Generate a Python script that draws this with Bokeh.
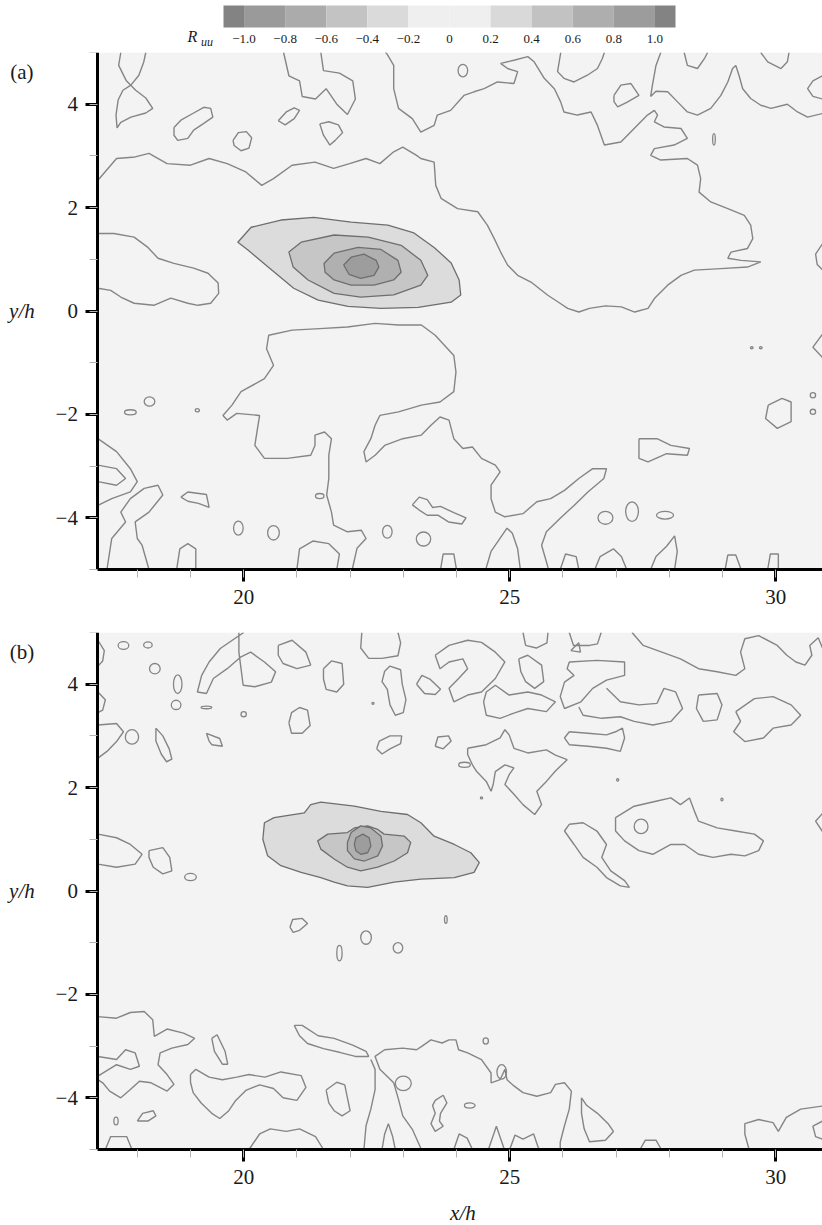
from bokeh.plotting import figure
from bokeh.layouts import column
from bokeh.models import Range1d, SingleIntervalTicker, CustomJSTickFormatter
from bokeh.core.properties import value
from bokeh.embed import file_html
from bokeh.resources import INLINE

SERIF = "Liberation Serif"
LINE = "#858585"
FS = "21px"

# data window of both panels
X_LIM = (17.26, 30.88)
Y_LIM = (-5.0, 5.0)

# ---------------- colour bar (R_uu levels) ----------------
CB_EDGES = [-1.1, -1.0, -0.8, -0.6, -0.4, -0.2, 0.0, 0.2, 0.4, 0.6, 0.8, 1.0, 1.1]
CB_COLORS = ["#838383", "#9a9a9a", "#ababab", "#c3c3c3", "#dadada", "#efefef",
             "#efefef", "#d9d9d9", "#c2c2c2", "#aeaeae", "#9c9c9c", "#838383"]
CB_TICKS = [-1.0, -0.8, -0.6, -0.4, -0.2, 0.0, 0.2, 0.4, 0.6, 0.8, 1.0]

# positive correlation levels 0.2, 0.4, 0.6, 0.8 (fills)
LEVEL_FILL = ["#dcdcdc", "#c6c6c6", "#b0b0b0", "#9d9d9d"]

# ---------------- panel (a) ----------------
A_LEVELS = [
    [(19.89, 1.33), (20.14, 1.62), (20.70, 1.76), (21.32, 1.81), (22.02, 1.72), (22.71, 1.66), (23.20, 1.51),
     (23.58, 1.23), (23.90, 0.93), (24.05, 0.60), (24.08, 0.31), (23.90, 0.17), (23.28, 0.07), (22.58, 0.05),
     (21.96, 0.09), (21.40, 0.21), (20.94, 0.44), (20.46, 0.85), (20.08, 1.18)],
    [(20.85, 1.14), (21.08, 1.33), (21.70, 1.47), (22.34, 1.43), (22.96, 1.27), (23.33, 0.98), (23.46, 0.69),
     (23.33, 0.50), (22.82, 0.31), (22.20, 0.27), (21.70, 0.34), (21.21, 0.60), (20.93, 0.85)],
    [(21.51, 0.92), (21.70, 1.12), (22.15, 1.23), (22.58, 1.19), (22.90, 0.98), (22.96, 0.75), (22.82, 0.60),
     (22.45, 0.50), (22.02, 0.50), (21.70, 0.60), (21.53, 0.75)],
    [(21.88, 0.89), (22.02, 1.04), (22.26, 1.10), (22.49, 0.98), (22.54, 0.85), (22.45, 0.69), (22.20, 0.63),
     (21.98, 0.71)],
]

A_LINES = [
    [(17.26, 2.53), (17.61, 2.95), (17.96, 2.98), (18.22, 3.05), (18.56, 2.85), (19.00, 2.82), (19.35, 2.95),
     (19.69, 2.85), (20.04, 2.69), (20.34, 2.43), (20.56, 2.56), (20.91, 2.82), (21.34, 2.88), (21.69, 2.76),
     (21.99, 2.85), (22.30, 2.95), (22.56, 2.85), (22.82, 3.08), (22.99, 3.17), (23.25, 3.01), (23.33, 2.95),
     (23.58, 2.88), (23.61, 2.43), (23.71, 2.18), (24.02, 1.98), (24.40, 1.92), (24.58, 1.66), (24.71, 1.40),
     (24.83, 1.14), (24.96, 0.89), (25.15, 0.69), (25.40, 0.56), (25.71, 0.31), (25.96, 0.14), (26.09, 0.05),
     (26.30, -0.02), (26.50, 0.05), (26.80, 0.10), (27.10, 0.08), (27.35, -0.02), (27.60, 0.05), (27.72, 0.24),
     (27.97, 0.50), (28.22, 0.69), (28.47, 0.79), (28.97, 0.82), (29.47, 0.85), (29.72, 0.95), (29.35, 0.98),
     (29.10, 1.02), (29.16, 1.14), (29.47, 1.21), (29.57, 1.40), (29.53, 1.66), (29.41, 1.85), (29.10, 1.98),
     (28.78, 2.11), (28.56, 2.30), (28.59, 2.56), (28.53, 2.82), (28.34, 2.95), (27.84, 2.92), (27.65, 3.01),
     (27.72, 3.14), (28.09, 3.21), (28.34, 3.34), (28.22, 3.53), (27.90, 3.56), (27.72, 3.66), (27.78, 3.79),
     (27.72, 3.88), (27.59, 3.79), (27.34, 3.53), (27.09, 3.27), (26.78, 3.21), (26.65, 3.59), (26.53, 3.85),
     (26.27, 3.79), (26.02, 3.85), (25.96, 4.04), (25.84, 4.30), (25.65, 4.50), (25.46, 4.82), (25.34, 4.92),
     (25.08, 4.85), (24.83, 4.79), (24.96, 4.69), (25.15, 4.63), (25.08, 4.40), (24.77, 4.43), (24.52, 4.30),
     (24.33, 4.24), (24.14, 4.17), (23.89, 3.88), (23.64, 3.79), (23.58, 3.59), (23.33, 3.46), (23.17, 3.72),
     (22.91, 3.92), (22.82, 4.30), (22.82, 4.75), (22.69, 4.98), (22.66, 5.0)],
    [(17.26, 1.50), (17.56, 1.50), (17.94, 1.43), (18.20, 1.23), (18.39, 1.02), (18.69, 0.92), (19.06, 0.83),
     (19.33, 0.73), (19.52, 0.54), (19.53, 0.34), (19.38, 0.15), (19.14, 0.11), (18.95, 0.15), (18.63, 0.25),
     (18.31, 0.11), (17.94, 0.15), (17.69, 0.27), (17.50, 0.40), (17.26, 0.44)],
    [(17.69, 5.0), (17.65, 4.75), (17.79, 4.46), (17.97, 4.27), (18.16, 4.12), (18.29, 3.92), (18.16, 3.83),
     (17.88, 3.75), (17.69, 3.65), (17.62, 3.54), (17.60, 3.79), (17.64, 4.08), (17.73, 4.27), (17.88, 4.37),
     (18.03, 4.56), (18.12, 4.81), (18.16, 5.0)],
    [(18.69, 3.55), (18.82, 3.69), (19.06, 3.83), (19.25, 3.94), (19.38, 3.92), (19.42, 3.75), (19.25, 3.63),
     (19.06, 3.50), (18.95, 3.34), (18.76, 3.30), (18.69, 3.40), (18.69, 3.55)],
    [(19.8, 3.3), (19.9, 3.45), (20.05, 3.47), (20.15, 3.35), (20.1, 3.15), (19.95, 3.1), (19.82, 3.2), (19.8, 3.3)],
    [(21.43, 3.62), (21.6, 3.66), (21.78, 3.6), (21.86, 3.45), (21.72, 3.3), (21.62, 3.21), (21.5, 3.4), (21.43, 3.62)],
    [(20.65, 3.68), (20.8, 3.85), (20.95, 3.93), (21.05, 3.88), (20.95, 3.72), (20.78, 3.6), (20.65, 3.68)],
    [(20.75, 5.0), (20.85, 4.55), (21.05, 4.45), (21.1, 4.15), (21.35, 4.1), (21.55, 4.3), (21.75, 4.0),
     (21.95, 3.8), (22.1, 4.1), (22.05, 4.45), (21.8, 4.6), (21.5, 4.65), (21.45, 5.0)],
    [(27.84, 5.0), (27.75, 4.75), (27.68, 4.35), (27.65, 4.15), (27.75, 4.25), (27.97, 4.24), (28.16, 4.04),
     (28.34, 3.85), (28.53, 3.79), (28.78, 3.92), (28.97, 4.17), (29.10, 4.43), (29.19, 4.69), (29.25, 4.75),
     (29.31, 4.56), (29.38, 4.30), (29.53, 4.11), (29.72, 3.98), (29.91, 3.92), (30.22, 4.0), (30.41, 3.85),
     (30.6, 3.75), (30.88, 3.82)],
    [(26.96, 4.17), (27.09, 4.37), (27.28, 4.40), (27.43, 4.17), (27.21, 4.04), (27.03, 3.95), (26.96, 4.05),
     (26.96, 4.17)],
    [(25.96, 5.0), (25.90, 4.63), (26.02, 4.50), (26.21, 4.43), (26.46, 4.56), (26.65, 4.69), (26.74, 4.88),
     (26.78, 5.0)],
    [(28.28, 5.0), (28.34, 4.75), (28.53, 4.69), (28.66, 4.88), (28.72, 5.0)],
    [(29.72, 5.0), (29.85, 4.82), (30.10, 4.69), (30.22, 4.82), (30.25, 5.0)],
    [(30.88, 4.55), (30.7, 4.45), (30.6, 4.3), (30.7, 4.15), (30.88, 4.1)],
    [(30.88, 1.3), (30.75, 1.1), (30.78, 0.9), (30.88, 0.8)],
    [(30.88, -0.45), (30.7, -0.7), (30.88, -0.9)],
    [(22.04, -5.0), (22.13, -4.59), (22.30, -4.40), (22.21, -4.24), (21.95, -4.27), (21.69, -4.14), (21.65, -3.89),
     (21.56, -3.56), (21.60, -3.24), (21.60, -2.79), (21.65, -2.47), (21.52, -2.34), (21.34, -2.40), (21.34, -2.60),
     (21.26, -2.79), (20.82, -2.85), (20.39, -2.85), (20.21, -2.60), (20.26, -2.27), (20.30, -2.02), (19.87, -1.98),
     (19.69, -2.11), (19.61, -2.02), (19.78, -1.82), (19.95, -1.56), (20.39, -1.31), (20.56, -1.05), (20.43, -0.73),
     (20.47, -0.47), (20.91, -0.37), (21.43, -0.34), (21.95, -0.31), (22.47, -0.24), (22.91, -0.27), (23.34, -0.27),
     (23.60, -0.47), (23.95, -0.86), (23.99, -1.18), (23.95, -1.56), (23.69, -1.76), (23.34, -1.82), (22.91, -1.95),
     (22.56, -2.02), (22.47, -2.21), (22.39, -2.47), (22.26, -2.72), (22.30, -2.92), (22.47, -2.79), (22.65, -2.60),
     (22.99, -2.47), (23.34, -2.40), (23.52, -2.21), (23.69, -2.05), (23.86, -2.11), (23.95, -2.47), (24.12, -2.66),
     (24.30, -2.63), (24.47, -2.85), (24.73, -2.98), (24.82, -3.11), (24.65, -3.37), (24.65, -3.63), (24.73, -3.89),
     (24.91, -3.98), (25.25, -3.92), (25.51, -3.69), (25.77, -3.63), (26.03, -3.47), (26.30, -3.24), (26.56, -3.05),
     (26.82, -3.05), (26.77, -3.24), (26.47, -3.50), (26.21, -3.76), (25.95, -4.01), (25.69, -4.27), (25.60, -4.53),
     (25.69, -4.85), (25.73, -5.0)],
    [(27.43, -2.47), (27.77, -2.47), (28.03, -2.60), (28.38, -2.66), (28.34, -2.79), (27.95, -2.76), (27.60, -2.92),
     (27.43, -2.85), (27.43, -2.47)],
    [(29.86, -1.82), (30.12, -1.69), (30.29, -1.76), (30.29, -2.14), (30.03, -2.27), (29.81, -2.08), (29.86, -1.82)],
    [(17.26, -2.47), (17.61, -2.72), (17.87, -3.05), (18.0, -3.30), (17.87, -3.50), (17.52, -3.63), (17.26, -3.76)],
    [(17.26, -2.98), (17.61, -3.05), (17.78, -3.24), (17.61, -3.37), (17.26, -3.30)],
    [(17.43, -5.0), (17.52, -4.40), (17.78, -4.08), (17.69, -3.89), (17.87, -3.63), (18.13, -3.43), (18.39, -3.37),
     (18.48, -3.56), (18.22, -3.89), (17.96, -4.08), (18.0, -4.40), (18.09, -4.53), (18.22, -5.0)],
    [(18.82, -3.6), (18.95, -3.5), (19.3, -3.55), (19.35, -3.8), (19.15, -3.72), (18.95, -3.68), (18.82, -3.6)],
    [(23.17, -3.75), (23.3, -3.6), (23.45, -3.65), (23.55, -3.8), (23.7, -3.78), (23.95, -3.9), (24.18, -4.0),
     (24.1, -4.12), (23.85, -4.08), (23.65, -3.95), (23.45, -3.95), (23.3, -3.85), (23.17, -3.75)],
    [(18.74, -5.0), (18.8, -4.6), (18.95, -4.5), (19.1, -4.6), (19.1, -5.0)],
    [(21.0, -5.0), (21.05, -4.6), (21.3, -4.45), (21.6, -4.5), (21.8, -4.7), (21.75, -5.0)],
    [(23.7, -5.0), (23.75, -4.7), (23.95, -4.7), (24.0, -5.0)],
    [(24.55, -5.0), (24.65, -4.65), (24.85, -4.35), (24.95, -4.2), (25.05, -4.3), (25.15, -4.6), (25.2, -5.0)],
    [(25.95, -5.0), (26.05, -4.7), (26.25, -4.75), (26.3, -5.0)],
    [(26.6, -5.0), (26.7, -4.75), (26.95, -4.6), (27.1, -4.75), (27.2, -5.0)],
    [(27.65, -5.0), (27.75, -4.75), (27.95, -4.55), (28.1, -4.35), (28.15, -4.65), (28.1, -5.0)],
    [(29.05, -5.0), (29.1, -4.72), (29.25, -4.72), (29.35, -5.0)],
    [(29.85, -5.0), (29.9, -4.7), (30.05, -4.7), (30.05, -5.0)],
]

A_ISL_X = [24.12, 28.84, 17.87, 18.23, 19.13, 19.9, 20.56, 22.7, 23.38, 26.8, 27.3, 27.92, 30.7, 30.7, 21.43, 29.55, 29.72]
A_ISL_Y = [4.65, 3.32, -1.96, -1.75, -1.92, -4.2, -4.29, -4.27, -4.41, -4.0, -3.88, -3.95, -1.63, -1.95, -3.58, -0.71, -0.71]
A_ISL_W = [0.18, 0.05, 0.22, 0.2, 0.08, 0.18, 0.22, 0.18, 0.27, 0.28, 0.24, 0.32, 0.1, 0.1, 0.16, 0.05, 0.05]
A_ISL_H = [0.24, 0.22, 0.1, 0.18, 0.06, 0.27, 0.28, 0.25, 0.27, 0.25, 0.38, 0.15, 0.1, 0.1, 0.1, 0.04, 0.04]

# ---------------- panel (b) ----------------
B_LEVELS = [
    [(20.39, 1.32), (20.57, 1.42), (21.14, 1.51), (21.26, 1.67), (21.45, 1.72), (22.08, 1.64), (22.58, 1.54),
     (23.08, 1.48), (23.33, 1.32), (23.58, 1.06), (23.96, 0.90), (24.27, 0.74), (24.43, 0.55), (24.33, 0.36),
     (23.96, 0.26), (23.33, 0.23), (22.83, 0.17), (22.33, 0.07), (21.95, 0.10), (21.70, 0.17), (21.45, 0.26),
     (21.08, 0.36), (20.70, 0.49), (20.45, 0.68), (20.36, 1.0)],
    [(21.39, 0.97), (21.58, 1.10), (21.95, 1.13), (22.08, 1.22), (22.33, 1.26), (22.52, 1.19), (22.64, 1.10),
     (23.02, 1.06), (23.14, 0.94), (23.08, 0.74), (22.83, 0.58), (22.52, 0.46), (22.20, 0.39), (21.95, 0.46),
     (21.70, 0.62), (21.45, 0.81)],
    [(21.95, 0.94), (22.02, 1.13), (22.20, 1.26), (22.39, 1.22), (22.58, 1.06), (22.61, 0.87), (22.52, 0.68),
     (22.27, 0.58), (22.08, 0.62), (21.95, 0.78)],
    [(22.08, 0.90), (22.11, 1.03), (22.24, 1.10), (22.36, 1.03), (22.39, 0.87), (22.33, 0.74), (22.20, 0.71),
     (22.11, 0.78)],
]

B_LINES = [
    [(17.26, 4.85), (17.38, 4.65), (17.35, 4.45), (17.26, 4.35)],
    [(17.26, 3.85), (17.4, 3.7), (17.35, 3.5), (17.26, 3.45)],
    [(17.26, 3.21), (17.61, 3.24), (17.74, 3.08), (17.61, 2.89), (17.43, 2.70), (17.26, 2.57)],
    [(18.35, 3.15), (18.48, 3.0), (18.6, 2.75), (18.65, 2.55), (18.55, 2.5), (18.45, 2.65), (18.35, 2.9), (18.35, 3.15)],
    [(19.3, 3.05), (19.55, 2.95), (19.6, 2.8), (19.4, 2.83), (19.35, 2.9), (19.3, 3.05)],
    [(20.0, 5.0), (19.56, 4.69), (19.35, 4.43), (19.21, 4.17), (19.13, 3.85), (19.30, 3.82), (19.43, 4.11),
     (19.69, 4.30), (19.95, 4.53), (20.13, 4.62), (20.39, 4.43), (20.6, 4.24), (20.52, 4.04), (20.21, 3.95),
     (19.99, 3.98), (19.95, 4.30), (19.91, 4.62), (19.91, 5.0)],
    [(20.65, 4.75), (20.91, 4.85), (21.17, 4.62), (21.26, 4.37), (21.0, 4.3), (20.74, 4.4), (20.65, 4.56), (20.65, 4.75)],
    [(21.5, 4.3), (21.65, 4.45), (21.85, 4.4), (21.88, 4.0), (21.75, 3.85), (21.55, 3.9), (21.5, 4.1), (21.5, 4.3)],
    [(20.85, 3.25), (20.9, 3.45), (21.05, 3.55), (21.2, 3.5), (21.25, 3.2), (21.1, 3.05), (20.9, 3.05), (20.85, 3.25)],
    [(22.22, 5.0), (22.2, 4.7), (22.35, 4.5), (22.6, 4.5), (22.9, 4.55), (22.95, 4.8), (22.9, 5.0)],
    [(22.65, 4.25), (22.75, 4.35), (22.95, 4.28), (22.98, 4.0), (23.05, 3.7), (23.0, 3.45), (22.85, 3.4), (22.75, 3.6),
     (22.7, 3.9), (22.6, 4.05), (22.65, 4.25)],
    [(23.25, 4.0), (23.35, 4.17), (23.5, 4.1), (23.7, 3.9), (23.6, 3.8), (23.4, 3.82), (23.25, 4.0)],
    [(22.5, 2.75), (22.55, 2.9), (22.75, 3.0), (22.97, 3.0), (22.95, 2.85), (22.75, 2.75), (22.6, 2.65), (22.5, 2.75)],
    [(23.6, 2.8), (23.65, 2.98), (23.85, 3.0), (23.9, 2.9), (23.75, 2.75), (23.6, 2.8)],
    [(23.60, 4.56), (23.86, 4.75), (24.21, 4.85), (24.47, 4.81), (24.73, 4.62), (24.91, 4.43), (24.73, 4.11),
     (24.47, 3.85), (24.21, 3.79), (23.95, 3.66), (23.86, 3.92), (24.04, 4.11), (24.21, 4.30), (24.12, 4.49),
     (23.86, 4.43), (23.69, 4.30), (23.60, 4.56)],
    [(24.56, 3.85), (24.73, 3.98), (24.99, 3.79), (25.34, 3.85), (25.60, 3.79), (25.86, 3.66), (25.69, 3.47),
     (25.34, 3.53), (25.08, 3.44), (24.82, 3.34), (24.56, 3.40), (24.51, 3.66), (24.56, 3.85)],
    [(25.17, 4.49), (25.34, 4.56), (25.60, 4.37), (25.64, 4.05), (25.47, 3.92), (25.30, 4.05), (25.21, 4.24), (25.17, 4.49)],
    [(25.25, 5.0), (25.3, 4.75), (25.5, 4.7), (25.7, 4.8), (25.72, 5.0)],
    [(26.12, 5.0), (26.2, 4.75), (26.5, 4.75), (26.65, 4.78), (26.72, 5.0)],
    [(26.12, 4.43), (26.64, 4.46), (27.16, 4.43), (27.16, 4.17), (26.82, 4.08), (26.56, 3.92), (26.34, 3.66),
     (26.03, 3.53), (25.95, 3.76), (26.03, 4.04), (26.21, 4.17), (26.08, 4.30), (26.12, 4.43)],
    [(26.82, 3.92), (27.08, 3.66), (27.43, 3.60), (27.77, 3.63), (27.90, 3.92), (28.12, 3.85), (28.25, 3.53),
     (28.03, 3.28), (27.69, 3.21), (27.34, 3.28), (27.08, 3.37), (26.73, 3.34), (26.38, 3.40), (26.30, 3.56)],
    [(26.12, 3.08), (26.47, 3.05), (26.82, 3.02), (26.99, 3.08), (27.12, 3.15), (27.16, 2.96), (27.08, 2.70),
     (26.82, 2.76), (26.47, 2.80), (26.12, 2.83), (26.03, 2.96), (26.12, 3.08)],
    [(24.21, 2.76), (24.56, 2.83), (24.82, 2.96), (24.91, 3.12), (24.99, 3.02), (25.08, 2.76), (25.34, 2.67),
     (25.69, 2.73), (25.86, 2.63), (26.08, 2.54), (25.86, 2.32), (25.69, 2.12), (25.51, 1.93), (25.60, 1.67),
     (25.47, 1.48), (25.25, 1.67), (25.08, 1.87), (24.91, 2.06), (24.99, 2.25), (25.08, 2.38), (24.91, 2.44),
     (24.73, 2.31), (24.69, 2.06), (24.65, 1.93), (24.56, 2.12), (24.38, 2.31), (24.30, 2.44), (24.21, 2.64),
     (24.21, 2.76)],
    [(27.3, 5.0), (27.51, 4.75), (27.86, 4.62), (28.21, 4.49), (28.55, 4.30), (28.9, 4.24), (29.25, 4.17),
     (29.42, 4.30), (29.34, 4.62), (29.42, 4.88), (29.68, 4.94), (30.03, 4.75), (30.21, 4.56), (30.38, 4.43),
     (30.55, 4.37), (30.68, 4.56), (30.64, 4.75), (30.8, 4.9), (30.88, 4.7)],
    [(28.55, 3.79), (28.90, 3.82), (28.99, 3.60), (28.90, 3.31), (28.64, 3.28), (28.51, 3.53), (28.55, 3.79)],
    [(29.25, 3.47), (29.60, 3.72), (29.95, 3.76), (30.29, 3.60), (30.47, 3.40), (30.29, 3.21), (29.95, 3.15),
     (29.77, 2.96), (29.42, 2.89), (29.21, 3.08), (29.34, 3.28), (29.25, 3.47)],
    [(26.99, 1.42), (27.34, 1.64), (27.77, 1.74), (28.03, 1.80), (28.21, 1.67), (28.38, 1.80), (28.47, 1.55),
     (28.55, 1.35), (28.90, 1.22), (29.25, 1.16), (29.60, 1.10), (29.77, 0.97), (29.68, 0.78), (29.42, 0.68),
     (29.16, 0.71), (28.82, 0.65), (28.55, 0.71), (28.29, 0.90), (28.03, 0.90), (27.69, 0.71), (27.43, 0.78),
     (27.16, 0.97), (26.99, 1.16), (26.99, 1.42)],
    [(26.12, 1.29), (26.38, 1.32), (26.64, 1.16), (26.82, 0.90), (26.73, 0.65), (26.90, 0.39), (27.16, 0.20),
     (27.25, 0.07), (27.08, 0.10), (26.82, 0.26), (26.64, 0.46), (26.38, 0.65), (26.21, 0.90), (26.03, 1.16),
     (26.12, 1.29)],
    [(17.26, 1.10), (17.61, 1.03), (17.87, 0.90), (18.09, 0.71), (17.96, 0.52), (17.61, 0.46), (17.26, 0.52)],
    [(18.22, 0.78), (18.48, 0.84), (18.61, 0.65), (18.65, 0.39), (18.48, 0.33), (18.30, 0.46), (18.22, 0.65), (18.22, 0.78)],
    [(30.88, 1.5), (30.75, 1.35), (30.88, 1.15)],
    [(26.15, 4.65), (26.3, 4.8), (26.33, 4.62), (26.15, 4.65)],
    [(20.87, -0.7), (20.92, -0.55), (21.1, -0.53), (21.2, -0.63), (21.05, -0.76), (20.93, -0.8), (20.87, -0.7)],
    [(17.26, -2.43), (17.61, -2.46), (17.87, -2.35), (18.13, -2.33), (18.29, -2.49), (18.32, -2.81), (18.56, -2.67),
     (18.87, -2.75), (19.08, -2.85), (18.95, -2.97), (18.65, -3.04), (18.43, -3.13), (18.39, -3.36), (18.56, -3.55),
     (18.69, -3.74), (18.56, -3.87), (18.26, -3.71), (18.04, -3.68), (17.87, -3.84), (17.69, -4.0), (17.48, -3.87),
     (17.35, -3.71), (17.26, -3.65)],
    [(17.26, -3.20), (17.61, -3.26), (17.78, -3.07), (17.96, -3.13), (18.04, -3.39), (17.87, -3.45), (17.61, -3.36),
     (17.26, -3.58)],
    [(19.4, -2.85), (19.45, -3.1), (19.6, -3.35), (19.7, -3.35), (19.65, -3.1), (19.5, -2.78), (19.4, -2.85)],
    [(18.0, -4.45), (18.1, -4.3), (18.3, -4.25), (18.35, -4.35), (18.2, -4.45), (18.0, -4.45)],
    [(17.4, -5.0), (17.5, -4.75), (17.8, -4.75), (17.9, -5.0)],
    [(19.0, -3.55), (19.1, -3.45), (19.35, -3.6), (19.6, -3.65), (19.87, -3.6), (20.1, -3.55), (20.4, -3.6),
     (20.7, -3.5), (21.08, -3.57), (21.17, -3.8), (21.0, -4.05), (20.74, -4.0), (20.56, -3.82), (20.3, -3.75),
     (20.05, -3.85), (19.85, -4.05), (19.72, -4.25), (19.55, -4.4), (19.4, -4.3), (19.2, -4.1), (19.05, -3.9),
     (19.0, -3.7), (19.0, -3.55)],
    [(20.95, -2.6), (21.1, -2.6), (21.4, -2.8), (21.7, -2.85), (22.05, -2.98), (22.3, -3.1), (22.35, -3.2),
     (22.1, -3.2), (21.8, -3.12), (21.5, -3.05), (21.2, -2.95), (21.05, -2.8), (20.95, -2.6)],
    [(22.26, -5.0), (22.30, -4.54), (22.39, -4.22), (22.47, -3.84), (22.47, -3.45), (22.39, -3.26)],
    [(21.55, -3.85), (21.75, -3.7), (21.9, -3.75), (21.95, -4.0), (22.0, -4.25), (21.85, -4.35), (21.7, -4.25),
     (21.6, -4.1), (21.55, -3.85)],
    [(23.34, -5.0), (23.17, -4.61), (22.99, -4.35), (22.91, -4.03), (22.82, -3.71), (22.56, -3.45), (22.47, -3.20),
     (22.65, -3.07), (22.99, -3.04), (23.25, -3.07), (23.34, -3.01), (23.52, -2.88), (23.73, -2.94), (23.86, -2.88),
     (23.99, -2.88), (24.04, -3.07), (24.21, -3.13), (24.47, -3.26), (24.65, -3.52), (24.65, -3.71), (24.82, -3.65),
     (24.91, -3.45), (24.95, -3.65), (25.08, -3.77), (25.25, -3.90), (25.51, -3.97), (25.77, -3.90), (25.86, -3.74),
     (26.03, -3.71), (26.16, -3.87), (26.12, -4.22), (26.03, -4.54), (25.95, -4.86), (25.95, -5.0)],
    [(23.6, -4.05), (23.75, -3.95), (23.82, -4.1), (23.7, -4.3), (23.68, -4.45), (23.75, -4.55), (23.6, -4.65),
     (23.52, -4.5), (23.6, -4.3), (23.55, -4.15), (23.6, -4.05)],
    [(26.35, -4.0), (26.45, -4.15), (26.65, -4.3), (26.85, -4.5), (26.95, -4.65), (26.8, -4.82), (26.5, -4.85),
     (26.4, -4.6), (26.35, -4.3), (26.35, -4.0)],
    [(23.95, -5.0), (24.05, -4.7), (24.2, -4.78), (24.3, -5.0)],
    [(24.6, -5.0), (24.75, -4.55), (24.9, -5.0)],
    [(25.0, -5.0), (25.1, -4.72), (25.25, -4.8), (25.45, -4.7), (25.55, -5.0)],
    [(27.45, -5.0), (27.55, -4.82), (27.75, -4.82), (27.85, -5.0)],
    [(22.6, -5.0), (22.65, -4.7), (22.72, -4.5), (22.8, -4.75), (22.85, -5.0)],
    [(20.1, -5.0), (20.3, -4.7), (20.5, -4.6), (20.8, -4.65), (21.05, -4.6), (21.35, -4.75), (21.5, -5.0)],
    [(29.5, -5.0), (29.42, -4.7), (29.42, -4.5), (29.68, -4.42), (29.95, -4.48), (30.05, -4.65), (30.2, -4.38),
     (30.47, -4.22), (30.88, -4.16)],
    [(30.88, -4.45), (30.7, -4.55), (30.75, -4.75), (30.88, -4.8)],
]

B_ISL_X = [17.74, 18.2, 18.33, 18.76, 18.73, 19.3, 20.0, 17.9, 19.0, 22.3, 21.8, 22.9, 23.8, 24.55, 27.47, 23.0,
           24.25, 24.85, 17.6, 22.43, 24.47, 27.03, 28.99, 24.15]
B_ISL_Y = [4.75, 4.76, 4.3, 4.0, 3.6, 3.55, 3.42, 2.98, 0.27, -0.9, -1.2, -1.1, -0.55, -2.9, 1.25, -3.72,
           -4.15, -3.5, -4.45, 3.63, 1.80, 2.15, 1.77, 2.44]
B_ISL_W = [0.2, 0.16, 0.2, 0.16, 0.18, 0.2, 0.1, 0.25, 0.22, 0.2, 0.1, 0.18, 0.05, 0.1, 0.26, 0.3,
           0.2, 0.18, 0.08, 0.04, 0.04, 0.04, 0.04, 0.22]
B_ISL_H = [0.15, 0.12, 0.2, 0.36, 0.18, 0.05, 0.1, 0.28, 0.14, 0.26, 0.3, 0.2, 0.15, 0.12, 0.28, 0.28,
           0.1, 0.28, 0.15, 0.04, 0.04, 0.05, 0.05, 0.1]

# page geometry (pixels)
PAGE_W = 822
FRAME_LEFT_PX = 97
PX_PER_X = 53.2
PX_PER_Y = 51.7
DATA_H = 517


def split(polys):
    return [[pt[0] for pt in poly] for poly in polys], [[pt[1] for pt in poly] for poly in polys]


def fmt_cb(t):
    if abs(t) < 1e-9:
        return "0"
    return ("\u2212" if t < 0 else "") + "%.1f" % abs(t)


def style_axis(ax):
    ax.axis_line_width = 3
    ax.axis_line_color = "black"
    ax.major_tick_line_width = 3
    ax.major_tick_line_color = "black"
    ax.major_tick_out = 12
    ax.major_tick_in = 0
    ax.minor_tick_out = 8
    ax.minor_tick_in = 0
    ax.minor_tick_line_color = "#b4b4b4"
    ax.minor_tick_line_width = 1
    ax.major_label_text_font = SERIF
    ax.major_label_text_font_size = FS
    ax.major_label_text_color = "#1a1a1a"
    ax.major_label_standoff = 8
    ax.formatter = CustomJSTickFormatter(code="return tick < 0 ? '\u2212' + (-tick) : '' + tick;")


def panel(tag, levels, lines, isl, top, below_px, xlabel):
    """below_px: pixels of frame kept under the data window (axis + labels drawn there)."""
    x0 = X_LIM[1] - PAGE_W / PX_PER_X
    y0 = Y_LIM[0] - below_px / PX_PER_Y
    p = figure(width=PAGE_W, height=top + DATA_H + below_px,
               x_range=Range1d(x0, X_LIM[1]), y_range=Range1d(y0, Y_LIM[1]),
               output_backend="svg", toolbar_location=None,
               min_border_left=0, min_border_right=0, min_border_top=top, min_border_bottom=0,
               background_fill_color="white", border_fill_color="white", outline_line_color=None)
    p.xgrid.visible = False
    p.ygrid.visible = False

    # data window background
    p.quad(left=[X_LIM[0]], right=[X_LIM[1]], bottom=[Y_LIM[0]], top=[Y_LIM[1]],
           fill_color="#f3f3f3", line_color=None)

    lx, ly = split(lines)
    p.multi_line(lx, ly, line_color=LINE, line_width=1.4)
    p.ellipse(isl[0], isl[1], width=isl[2], height=isl[3], fill_color=None, line_color=LINE, line_width=1.3)
    bx, by = split(levels)
    p.patches(bx, by, fill_color=LEVEL_FILL, line_color="#6e6e6e", line_width=1.3)

    xa = p.xaxis[0]
    ya = p.yaxis[0]
    xa.ticker = SingleIntervalTicker(interval=5, num_minor_ticks=5)
    ya.ticker = SingleIntervalTicker(interval=2, num_minor_ticks=2)
    style_axis(xa)
    style_axis(ya)
    xa.bounds = X_LIM
    ya.bounds = Y_LIM
    ya.fixed_location = X_LIM[0]
    xa.fixed_location = Y_LIM[0]

    lab_x = X_LIM[0] - (FRAME_LEFT_PX - 21) / PX_PER_X
    p.text(x=[lab_x], y=[0.0], text=["y/h"], text_font=value(SERIF), text_font_style="italic",
           text_font_size=FS, text_align="center", text_baseline="middle", text_color="#1a1a1a")
    p.text(x=[lab_x], y=[4.63], text=[tag], text_font=value(SERIF),
           text_font_size=FS, text_align="center", text_baseline="middle", text_color="#1a1a1a")
    if xlabel:
        p.text(x=[X_LIM[0] + (462 - FRAME_LEFT_PX) / PX_PER_X], y=[Y_LIM[0] - 63 / PX_PER_Y], text=[xlabel],
               text_font=value(SERIF), text_font_style="italic", text_font_size=FS,
               text_align="center", text_baseline="middle", text_color="#1a1a1a")
    return p


# colour bar figure: -1.1 .. 1.1 spans page x 223 .. 675, bar rows page y 5 .. 27
CB_H = 50
cb_px = 452 / 2.2
cb_x0 = -1.1 - 223 / cb_px
cb_py = 22.0
cb = figure(width=PAGE_W, height=CB_H,
            x_range=Range1d(cb_x0, cb_x0 + PAGE_W / cb_px),
            y_range=Range1d(1 - (CB_H - 5) / cb_py, 1 + 5 / cb_py),
            output_backend="svg", toolbar_location=None,
            x_axis_location=None, y_axis_location=None,
            min_border_left=0, min_border_right=0, min_border_top=0, min_border_bottom=0,
            outline_line_color=None, background_fill_color="white", border_fill_color="white")
cb.xgrid.visible = False
cb.ygrid.visible = False
cb.quad(left=CB_EDGES[:-1], right=CB_EDGES[1:], bottom=0, top=1, fill_color=CB_COLORS, line_color=None)
cb.text(x=CB_TICKS, y=[-0.5] * len(CB_TICKS), text=[fmt_cb(t) for t in CB_TICKS], text_font=value(SERIF),
        text_font_size="13px", text_align="center", text_baseline="middle", text_color="#1a1a1a")
cb.text(x=[-1.251], y=[-0.41], text=["R"], text_font=value(SERIF), text_font_style="italic",
        text_font_size="16px", text_align="center", text_baseline="middle", text_color="#1a1a1a")
cb.text(x=[-1.18], y=[-0.68], text=["uu"], text_font=value(SERIF), text_font_style="italic",
        text_font_size="12px", text_align="center", text_baseline="middle", text_color="#1a1a1a")

# page rows: colour bar 0-50, panel (a) 50-619 (data 52-569), panel (b) 619-1223 (data 632-1149)
pa = panel("(a)", A_LEVELS, A_LINES, (A_ISL_X, A_ISL_Y, A_ISL_W, A_ISL_H), 2, 50, None)
pb = panel("(b)", B_LEVELS, B_LINES, (B_ISL_X, B_ISL_Y, B_ISL_W, B_ISL_H), 13, 74, "x/h")

layout = column(cb, pa, pb)
open("out.html", "w").write(file_html(layout, INLINE))
